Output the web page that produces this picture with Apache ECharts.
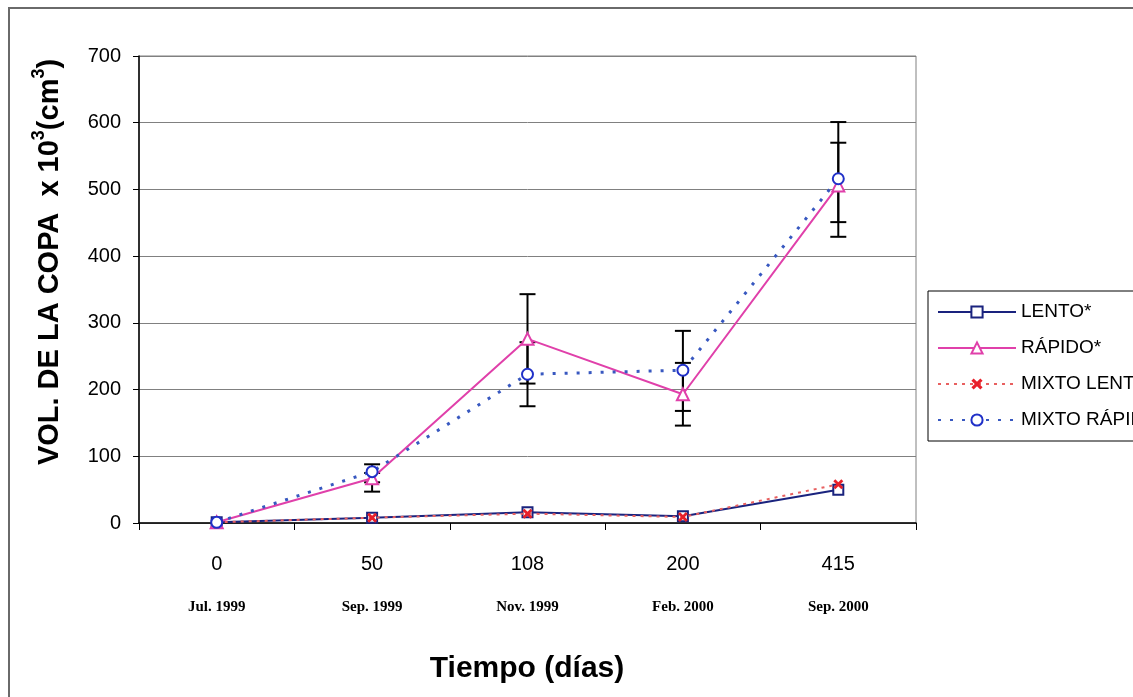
<!DOCTYPE html>
<html>
<head>
<meta charset="utf-8">
<script src="https://cdn.jsdelivr.net/npm/echarts@6/dist/echarts.min.js"></script>
<style>
html,body{margin:0;padding:0;background:#fff;}
#chart{width:1133px;height:697px;}
</style>
</head>
<body>
<div id="chart"></div>
<script>
// ---- data ----
const days = ['0', '50', '108', '200', '415'];
const dates = ['Jul. 1999', 'Sep. 1999', 'Nov. 1999', 'Feb. 2000', 'Sep. 2000'];
const lento = [1, 8, 16, 10, 50];
const rapido = [1, 67, 276, 193, 506];
const mixtoLento = [1, 8, 14, 9, 58];
const mixtoRapido = [1, 77, 223, 229, 516];
// error bar bounds [category index, low, high]
const rapidoErr = [[1, 47, 75], [2, 209, 343], [3, 146, 240], [4, 451, 570]];
const mixtoRapidoErr = [[1, 61, 88], [2, 175, 271], [3, 168, 288], [4, 429, 601]];
const yTicks = [0, 100, 200, 300, 400, 500, 600, 700];

const chart = echarts.init(document.getElementById('chart'), null, {renderer: 'canvas'});

function errRender(params, api) {
  const x = api.value(0);
  const lo = api.coord([x, api.value(1)]);
  const hi = api.coord([x, api.value(2)]);
  const w = 8;
  const st = {stroke: '#000', lineWidth: 2};
  return {
    type: 'group',
    children: [
      {type: 'line', shape: {x1: lo[0], y1: lo[1], x2: hi[0], y2: hi[1]}, style: st},
      {type: 'line', shape: {x1: lo[0] - w, y1: lo[1], x2: lo[0] + w, y2: lo[1]}, style: st},
      {type: 'line', shape: {x1: hi[0] - w, y1: hi[1], x2: hi[0] + w, y2: hi[1]}, style: st}
    ]
  };
}

const xMark = 'path://M0,2L2,0L5,3L8,0L10,2L7,5L10,8L8,10L5,7L2,10L0,8L3,5Z';

const option = {
  backgroundColor: '#fff',
  animation: false,
  textStyle: {fontFamily: 'Liberation Sans, Arial, sans-serif'},
  graphic: [
    {type: 'rect', shape: {x: 9, y: 8, width: 1300, height: 900}, style: {fill: 'none', stroke: '#6a6a6a', lineWidth: 2}, z: -10},
    {type: 'text', x: 47, y: 262, rotation: Math.PI / 2,
      style: {
        text: '{m|VOL. DE LA COPA  x 10}{s|3}{m|(cm}{s|3}{m|)}',
        align: 'center', verticalAlign: 'middle',
        rich: {
          m: {fontSize: 29, fontWeight: 'bold', fontFamily: 'Liberation Sans, Arial', fill: '#000', lineHeight: 34, verticalAlign: 'bottom'},
          s: {fontSize: 18, fontWeight: 'bold', fontFamily: 'Liberation Sans, Arial', fill: '#000', lineHeight: 34, verticalAlign: 'top'}
        }
      }
    },
    {type: 'text', x: 527, y: 669,
      style: {text: 'Tiempo (días)', fontSize: 30, fontWeight: 'bold', fontFamily: 'Liberation Sans, Arial', fill: '#000', align: 'center', verticalAlign: 'middle'}
    }
  ],
  grid: {left: 139, right: 217, top: 56, bottom: 174, show: true, borderColor: '#808080', borderWidth: 1, backgroundColor: '#fff'},
  legend: {
    orient: 'vertical', left: 928, top: 291,
    data: ['LENTO*', 'RÁPIDO*', 'MIXTO LENTO', 'MIXTO RÁPIDO'],
    itemWidth: 78, itemHeight: 14, itemGap: 14,
    padding: [10, 10, 10, 9],
    borderColor: '#000', borderWidth: 1, backgroundColor: '#fff',
    textStyle: {fontSize: 19, color: '#000', fontFamily: 'Liberation Sans, Arial', lineHeight: 22}
  },
  xAxis: {
    type: 'category', data: days, boundaryGap: true,
    axisLine: {lineStyle: {color: '#000', width: 1.5}},
    axisTick: {show: true, length: 7, lineStyle: {color: '#000'}},
    axisLabel: {
      margin: 30, interval: 0,
      formatter: function (v, i) { return '{a|' + v + '}\n{b|' + dates[i] + '}'; },
      rich: {
        a: {fontSize: 20, fontFamily: 'Liberation Sans, Arial', color: '#000', lineHeight: 22},
        b: {fontSize: 15, fontWeight: 'bold', fontFamily: 'Liberation Serif, Times New Roman', color: '#000', lineHeight: 64}
      }
    }
  },
  yAxis: {
    type: 'value', min: yTicks[0], max: yTicks[yTicks.length - 1], interval: 100,
    axisLine: {show: true, lineStyle: {color: '#000', width: 1.5}},
    axisTick: {show: true, length: 6, lineStyle: {color: '#000'}},
    axisLabel: {fontSize: 20, color: '#000', margin: 18, fontFamily: 'Liberation Sans, Arial'},
    splitLine: {lineStyle: {color: '#808080', width: 1}}
  },
  series: [
    {type: 'custom', name: 'errR', renderItem: errRender, data: rapidoErr, z: 1, silent: true},
    {type: 'custom', name: 'errMR', renderItem: errRender, data: mixtoRapidoErr, z: 1, silent: true},
    {
      name: 'LENTO*', type: 'line', data: lento, z: 3,
      symbol: 'emptyRect', symbolSize: 10,
      itemStyle: {color: '#1a237e', borderWidth: 2},
      lineStyle: {color: '#1a237e', width: 2}
    },
    {
      name: 'RÁPIDO*', type: 'line', data: rapido, z: 3,
      symbol: 'emptyTriangle', symbolSize: 12,
      itemStyle: {color: '#e040aa', borderWidth: 1.5},
      lineStyle: {color: '#e040aa', width: 2}
    },
    {
      name: 'MIXTO LENTO', type: 'line', data: mixtoLento, z: 4,
      symbol: xMark, symbolSize: 10,
      itemStyle: {color: '#e8202a'},
      lineStyle: {color: '#e86060', width: 2, type: [3, 5]}
    },
    {
      name: 'MIXTO RÁPIDO', type: 'line', data: mixtoRapido, z: 4,
      symbol: 'emptyCircle', symbolSize: 11,
      itemStyle: {color: '#2030c8', borderWidth: 2},
      lineStyle: {color: '#3858c0', width: 3, type: [3, 9], cap: 'butt'}
    }
  ]
};
chart.setOption(option);
</script>
</body>
</html>
